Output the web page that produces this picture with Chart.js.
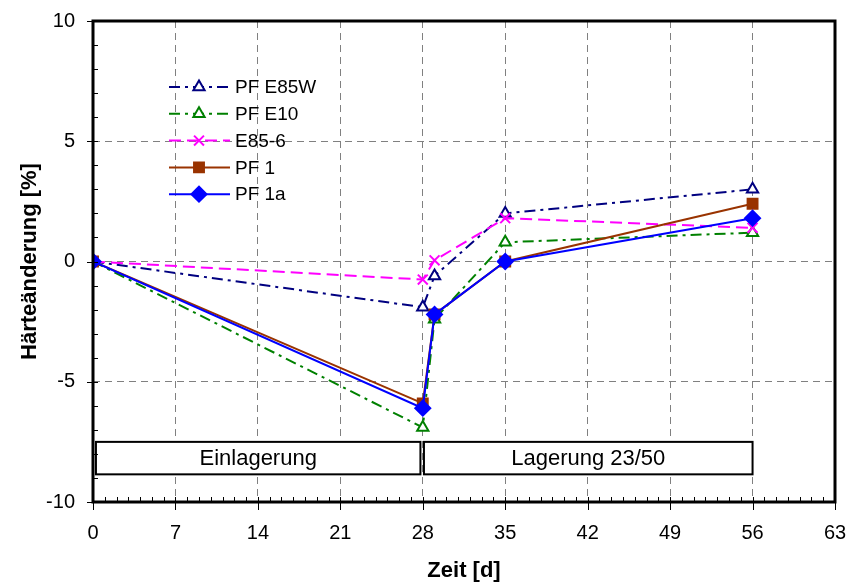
<!DOCTYPE html>
<html>
<head>
<meta charset="utf-8">
<script src="https://cdn.jsdelivr.net/npm/chart.js@4.4.1/dist/chart.umd.min.js"></script>
<style>
  html, body { margin: 0; padding: 0; background: #fff; }
  #wrap { width: 847px; height: 584px; }
</style>
</head>
<body>
<div id="wrap"><canvas id="chart" width="847" height="584"></canvas></div>
<script>
// Data
const days = [0, 28, 29, 35, 56];
const pfE85W = [0, -1.9, -0.6, 2.0, 3.0];
const pfE10 = [0, -6.9, -2.4, 0.8, 1.2];
const e85_6 = [0, -0.75, 0.05, 1.8, 1.4];
const pf1 = [0, -5.9, -2.2, 0.0, 2.4];
const pf1a = [0, -6.1, -2.2, 0.0, 1.8];

const seriesNames = ['PF E85W', 'PF E10', 'E85-6', 'PF 1', 'PF 1a'];
const xTicks = [0, 7, 14, 21, 28, 35, 42, 49, 56, 63];
const yTicks = [-10, -5, 0, 5, 10];

// phase boxes: [from, to, label]
const phases = [
    [0.25, 27.8, 'Einlagerung'],
    [28.1, 56, 'Lagerung 23/50']
];

const FONT = '"Liberation Sans", Arial, sans-serif';

function toPoints(ys) {
    return days.map((d, i) => ({ x: d, y: ys[i] }));
}

const styles = [
    { color: '#000080', dash: [11, 5, 3, 5], point: 'triangle', fill: '#ffffff', radius: 6.5 },
    { color: '#008000', dash: [11, 5, 3, 5], point: 'triangle', fill: '#ffffff', radius: 6.5 },
    { color: '#ff00ff', dash: [12, 6], point: 'crossRot', fill: '#ff00ff', radius: 7 },
    { color: '#993300', dash: [], point: 'rect', fill: '#993300', radius: 7 },
    { color: '#0000ff', dash: [], point: 'rectRot', fill: '#0000ff', radius: 7.5 }
];

const allSeries = [pfE85W, pfE10, e85_6, pf1, pf1a];

const datasets = allSeries.map((ys, i) => ({
    label: seriesNames[i],
    data: toPoints(ys),
    borderColor: styles[i].color,
    borderWidth: 2,
    borderDash: styles[i].dash,
    pointStyle: styles[i].point,
    pointRadius: styles[i].radius,
    pointBorderColor: styles[i].color,
    pointBackgroundColor: styles[i].fill,
    pointBorderWidth: 2,
    tension: 0,
    fill: false,
    order: 4 - i
}));

// Draws frame, minor ticks, phase boxes, legend and axis titles
const decorPlugin = {
    id: 'decor',
    afterDatasetsDraw(chart) {
        const ctx = chart.ctx;
        const a = chart.chartArea;
        const xs = chart.scales.x;
        const ys = chart.scales.y;
        ctx.save();

        // phase boxes
        ctx.strokeStyle = '#000';
        ctx.lineWidth = 2;
        ctx.setLineDash([]);
        const bTop = ys.getPixelForValue(-7.5);
        const bBot = ys.getPixelForValue(-8.85);
        phases.forEach(p => {
            const x0 = xs.getPixelForValue(p[0]);
            const x1 = xs.getPixelForValue(p[1]);
            ctx.fillStyle = '#fff';
            ctx.fillRect(x0, bTop, x1 - x0, bBot - bTop);
            ctx.strokeRect(x0, bTop, x1 - x0, bBot - bTop);
            ctx.fillStyle = '#000';
            ctx.font = '22px ' + FONT;
            ctx.textAlign = 'center';
            ctx.textBaseline = 'middle';
            ctx.fillText(p[2], (x0 + x1) / 2, (bTop + bBot) / 2 + 1);
        });

        // minor ticks
        ctx.lineWidth = 1;
        ctx.strokeStyle = '#000';
        ctx.beginPath();
        for (let d = 1; d < 63; d++) {
            const px = Math.round(xs.getPixelForValue(d)) + 0.5;
            ctx.moveTo(px, a.bottom);
            ctx.lineTo(px, a.bottom - 5);
        }
        for (let v = -9; v < 10; v++) {
            const py = Math.round(ys.getPixelForValue(v)) + 0.5;
            ctx.moveTo(a.left, py);
            ctx.lineTo(a.left + 5, py);
        }
        // major ticks outward
        xTicks.forEach(d => {
            const px = Math.round(xs.getPixelForValue(d)) + 0.5;
            ctx.moveTo(px, a.bottom);
            ctx.lineTo(px, a.bottom + 8);
        });
        yTicks.forEach(v => {
            const py = Math.round(ys.getPixelForValue(v)) + 0.5;
            ctx.moveTo(a.left, py);
            ctx.lineTo(a.left - 6, py);
        });
        ctx.stroke();

        // frame
        ctx.lineWidth = 3;
        ctx.strokeRect(a.left, a.top, a.right - a.left, a.bottom - a.top);

        // legend
        ctx.font = '19px ' + FONT;
        ctx.textAlign = 'left';
        ctx.textBaseline = 'middle';
        chart.data.datasets.forEach((ds, i) => {
            const y = 87 + i * 26.8;
            ctx.strokeStyle = ds.borderColor;
            ctx.lineWidth = 2;
            ctx.setLineDash(ds.borderDash);
            ctx.beginPath();
            ctx.moveTo(169, y);
            ctx.lineTo(230, y);
            ctx.stroke();
            ctx.setLineDash([]);
            ctx.lineWidth = 2;
            ctx.fillStyle = ds.pointBackgroundColor;
            Chart.helpers.drawPoint(ctx, {
                pointStyle: ds.pointStyle,
                radius: ds.pointRadius,
                rotation: 0,
                borderWidth: 2
            }, 199, y);
            ctx.fillStyle = '#000';
            ctx.fillText(ds.label, 235, y + 1);
        });

        // axis titles
        ctx.fillStyle = '#000';
        ctx.font = 'bold 22px ' + FONT;
        ctx.textAlign = 'center';
        ctx.fillText('Zeit [d]', (a.left + a.right) / 2, 571);
        ctx.translate(30, (a.top + a.bottom) / 2);
        ctx.rotate(-Math.PI / 2);
        ctx.fillText('Härteänderung [%]', 0, 0);
        ctx.restore();
    }
};

function initChart() {
    const ctx = document.getElementById('chart').getContext('2d');
    new Chart(ctx, {
        type: 'line',
        data: { datasets: datasets },
        options: {
            responsive: false,
            animation: false,
            events: [],
            layout: { padding: { left: 0, right: 12, top: 21, bottom: 0 } },
            plugins: {
                legend: { display: false },
                tooltip: { enabled: false }
            },
            scales: {
                x: {
                    type: 'linear',
                    min: 0,
                    max: 63,
                    afterFit: s => {
                        s.height = 82;
                        s.paddingLeft = 0;
                        s.paddingRight = 0;
                    },
                    afterBuildTicks: s => { s.ticks = xTicks.map(v => ({ value: v })); },
                    ticks: {
                        padding: 19,
                        color: '#000',
                        font: { family: FONT, size: 20 },
                        maxRotation: 0
                    },
                    grid: { color: '#808080', lineWidth: 1, drawTicks: false },
                    border: { display: false, dash: [7, 5] }
                },
                y: {
                    min: -10,
                    max: 10,
                    afterFit: s => {
                        s.width = 93;
                        s.paddingTop = 0;
                        s.paddingBottom = 0;
                    },
                    afterBuildTicks: s => { s.ticks = yTicks.map(v => ({ value: v })); },
                    ticks: {
                        padding: 18,
                        color: '#000',
                        font: { family: FONT, size: 20 }
                    },
                    grid: { color: '#808080', lineWidth: 1, drawTicks: false },
                    border: { display: false, dash: [7, 5] }
                }
            }
        },
        plugins: [decorPlugin]
    });
}

document.addEventListener('DOMContentLoaded', initChart);
</script>
</body>
</html>
